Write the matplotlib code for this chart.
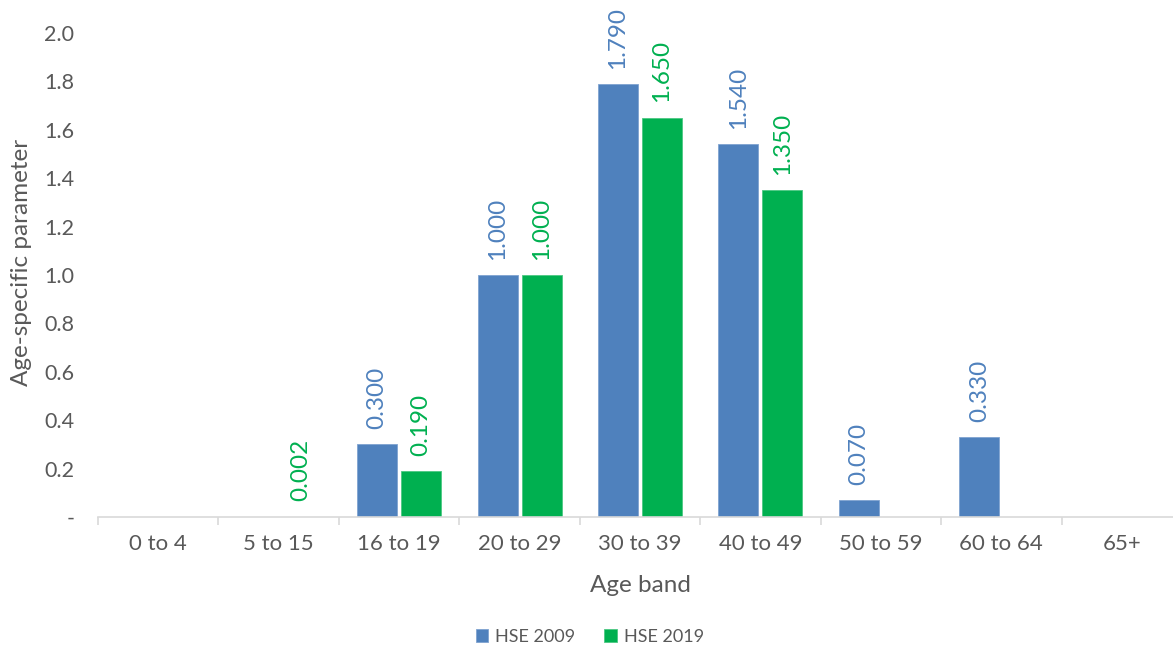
import matplotlib
matplotlib.use("Agg")
import matplotlib.pyplot as plt
import numpy as np

categories = ["0 to 4", "5 to 15", "16 to 19", "20 to 29", "30 to 39",
              "40 to 49", "50 to 59", "60 to 64", "65+"]
hse_2009 = [np.nan, np.nan, 0.300, 1.000, 1.790, 1.540, 0.070, 0.330, np.nan]
hse_2019 = [np.nan, 0.002, 0.190, 1.000, 1.650, 1.350, np.nan, np.nan, np.nan]
y_ticks = [0.0, 0.2, 0.4, 0.6, 0.8, 1.0, 1.2, 1.4, 1.6, 1.8, 2.0]
y_tick_labels = ["-", "0.2", "0.4", "0.6", "0.8", "1.0", "1.2", "1.4", "1.6", "1.8", "2.0"]
series_names = ["HSE 2009", "HSE 2019"]

BLUE = "#4F81BD"
GREEN = "#00B050"
TEXT = "#595959"

plt.rcParams["font.family"] = ["Lato", "DejaVu Sans"]

W, H = 1173, 646
fig = plt.figure(figsize=(W / 100, H / 100), dpi=100)
left, right, top, bottom = 98, 1182, 33, 517
ax = fig.add_axes([left / W, 1 - bottom / H, (right - left) / W, (bottom - top) / H])

x = np.arange(len(categories))
bw = 40 / 120.5
off = 22 / 120.5
b1 = ax.bar(x - off, hse_2009, bw, color=BLUE, edgecolor="#7FA3D0", linewidth=0.6, label=series_names[0])
b2 = ax.bar(x + off, hse_2019, bw, color=GREEN, edgecolor="#4CC883", linewidth=0.6, label=series_names[1])

for bars, vals, col in [(b1, hse_2009, BLUE), (b2, hse_2019, GREEN)]:
    for rect, v in zip(bars, vals):
        if np.isnan(v):
            continue
        ax.annotate(f"{v:.3f}", xy=(rect.get_x() + rect.get_width() / 2, v),
                    xytext=(0, 11), textcoords="offset points",
                    rotation=90, ha="center", va="bottom", color=col, fontsize=17.5)

ax.set_xlim(-0.5, len(categories) - 0.5)
ax.set_ylim(0, 2.0)
ax.set_yticks(y_ticks)
ax.set_yticklabels(y_tick_labels)
ax.set_xticks(x)
ax.set_xticklabels(categories)
ax.set_xticks(np.arange(len(categories) + 1) - 0.5, minor=True)

for s in ["top", "right", "left"]:
    ax.spines[s].set_visible(False)
ax.spines["bottom"].set_color("#D9D9D9")
ax.spines["bottom"].set_linewidth(1.2)
ax.tick_params(axis="y", length=0, pad=17, labelsize=15.5, labelcolor=TEXT)
ax.tick_params(axis="x", which="major", length=0, pad=12, labelsize=16, labelcolor=TEXT)
ax.tick_params(axis="x", which="minor", length=6, width=1.2, color="#D9D9D9")

fig.text(640 / W, 1 - 585 / H, "Age band", ha="center", va="center",
         fontsize=17.5, color=TEXT)
fig.text(22 / W, 1 - 262 / H, "Age-specific parameter", rotation=90,
         ha="center", va="center", fontsize=17.5, color=TEXT)

leg = fig.legend(handles=[b1, b2], labels=series_names, loc="center",
                 bbox_to_anchor=(590 / W, 1 - 637 / H), ncol=2, frameon=False,
                 fontsize=13, handlelength=0.7, handleheight=0.7,
                 handletextpad=0.4, columnspacing=1.6)
for t in leg.get_texts():
    t.set_color(TEXT)

fig.savefig("out.png", dpi=100)
